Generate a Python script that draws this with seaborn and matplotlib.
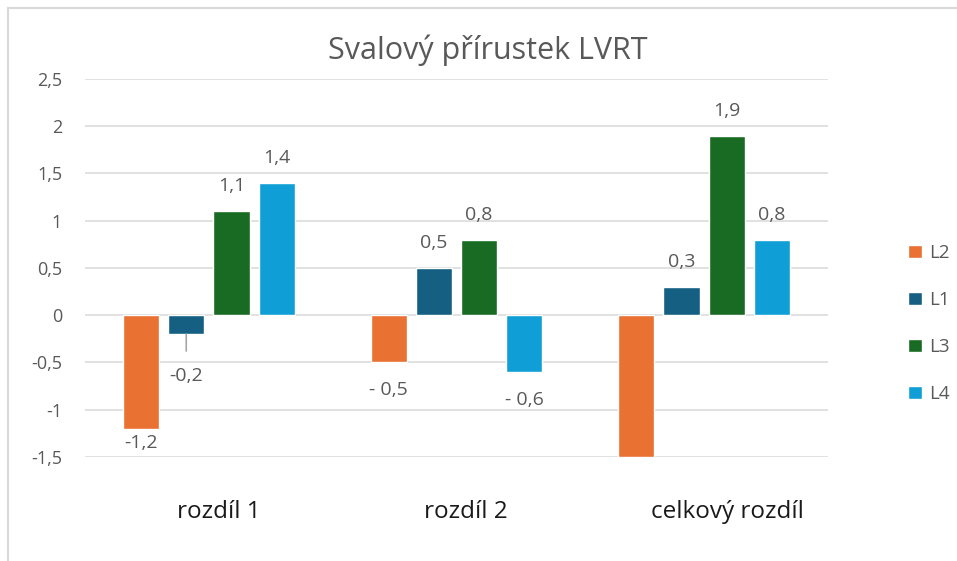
import matplotlib
matplotlib.use("Agg")
import matplotlib.pyplot as plt
import matplotlib.transforms as mtransforms
import seaborn as sns
import pandas as pd
from matplotlib.patches import Rectangle

# data
categories = ["rozdíl 1", "rozdíl 2", "celkový rozdíl"]
series = ["L2", "L1", "L3", "L4"]
values = {
    "L2": [-1.2, -0.5, -1.5],
    "L1": [-0.2, 0.5, 0.3],
    "L3": [1.1, 0.8, 1.9],
    "L4": [1.4, -0.6, 0.8],
}
bar_labels = {
    "L2": ["-1,2", "- 0,5", ""],
    "L1": ["-0,2", "0,5", "0,3"],
    "L3": ["1,1", "0,8", "1,9"],
    "L4": ["1,4", "- 0,6", "0,8"],
}
colors = ["#E97132", "#156082", "#196B24", "#0F9ED5"]
yticks = [-1.5, -1, -0.5, 0, 0.5, 1, 1.5, 2, 2.5]
ytick_labels = ["-1,5", "-1", "-0,5", "0", "0,5", "1", "1,5", "2", "2,5"]

rows = []
for s in series:
    for c, v in zip(categories, values[s]):
        rows.append({"kategorie": c, "serie": s, "hodnota": v})
df = pd.DataFrame(rows)

sns.set_style("white")
plt.rcParams["font.family"] = ["Open Sans", "DejaVu Sans"]

fig = plt.figure(figsize=(9.57, 5.61), dpi=100)
ax = fig.add_axes([85 / 957, 1 - 457 / 561, 743 / 957, 378 / 561])

sns.barplot(data=df, x="kategorie", y="hodnota", hue="serie",
            order=categories, hue_order=series, palette=colors,
            width=0.73, gap=0.2, saturation=1, ax=ax, legend=True)

ax.set_xlim(-0.5, 2.5)
ax.set_ylim(-1.5, 2.5)
ax.set_yticks(yticks)
ax.set_yticklabels(ytick_labels)
ax.yaxis.grid(True, color="#d9d9d9", linewidth=1.1)
ax.set_axisbelow(True)
for sp in ax.spines.values():
    sp.set_visible(False)
ax.set_xlabel("")
ax.set_ylabel("")
ax.tick_params(axis="y", length=0, pad=16.5, labelsize=13, labelcolor="#595959")
ax.tick_params(axis="x", length=0, pad=31, labelsize=17.5, labelcolor="#1a1a1a")

# category labels sit a little right of the bar groups in the original
for lab, dx in zip(ax.get_xticklabels(), [10, 9, 23]):
    lab.set_transform(lab.get_transform() + mtransforms.ScaledTranslation(dx / 100, 0, fig.dpi_scale_trans))

# data labels
for cont, s in zip(ax.containers, series):
    for bar, txt, v in zip(cont, bar_labels[s], values[s]):
        if not txt:
            continue
        x = bar.get_x() + bar.get_width() / 2
        if txt == "-0,2":
            ax.annotate(txt, (x, v), xytext=(0, -30), textcoords="offset points",
                        ha="center", va="center", fontsize=14, color="#595959",
                        arrowprops=dict(arrowstyle="-", color="#a6a6a6", lw=1.2,
                                        shrinkA=9, shrinkB=0))
        elif txt == "-1,2":
            ax.annotate(txt, (x, v), xytext=(0, -10), textcoords="offset points",
                        ha="center", va="center", fontsize=14, color="#595959")
        else:
            dy = 18 if v > 0 else -20
            ax.annotate(txt, (x, v), xytext=(0, dy), textcoords="offset points",
                        ha="center", va="center", fontsize=14, color="#595959")

# legend on the right
handles, labels = ax.get_legend_handles_labels()
ax.legend(handles, labels, loc="center left", bbox_to_anchor=(899 / 957, 1 - 323.5 / 561),
          bbox_transform=fig.transFigure, frameon=False, fontsize=13.5,
          labelcolor="#595959", handlelength=0.7, handleheight=0.7,
          handletextpad=0.4, labelspacing=1.55, borderpad=0)

fig.text(488 / 957, 1 - 50 / 561, "Svalový přírustek LVRT", ha="center", va="center",
         fontsize=22, color="#595959")

# light frame of the chart area
fig.patches.append(Rectangle((8 / 957, -0.1), 1.2, 1 - 8 / 561 + 0.1,
                             transform=fig.transFigure, fill=False,
                             edgecolor="#d9d9d9", linewidth=1.5))

fig.savefig("out.png", dpi=100)
